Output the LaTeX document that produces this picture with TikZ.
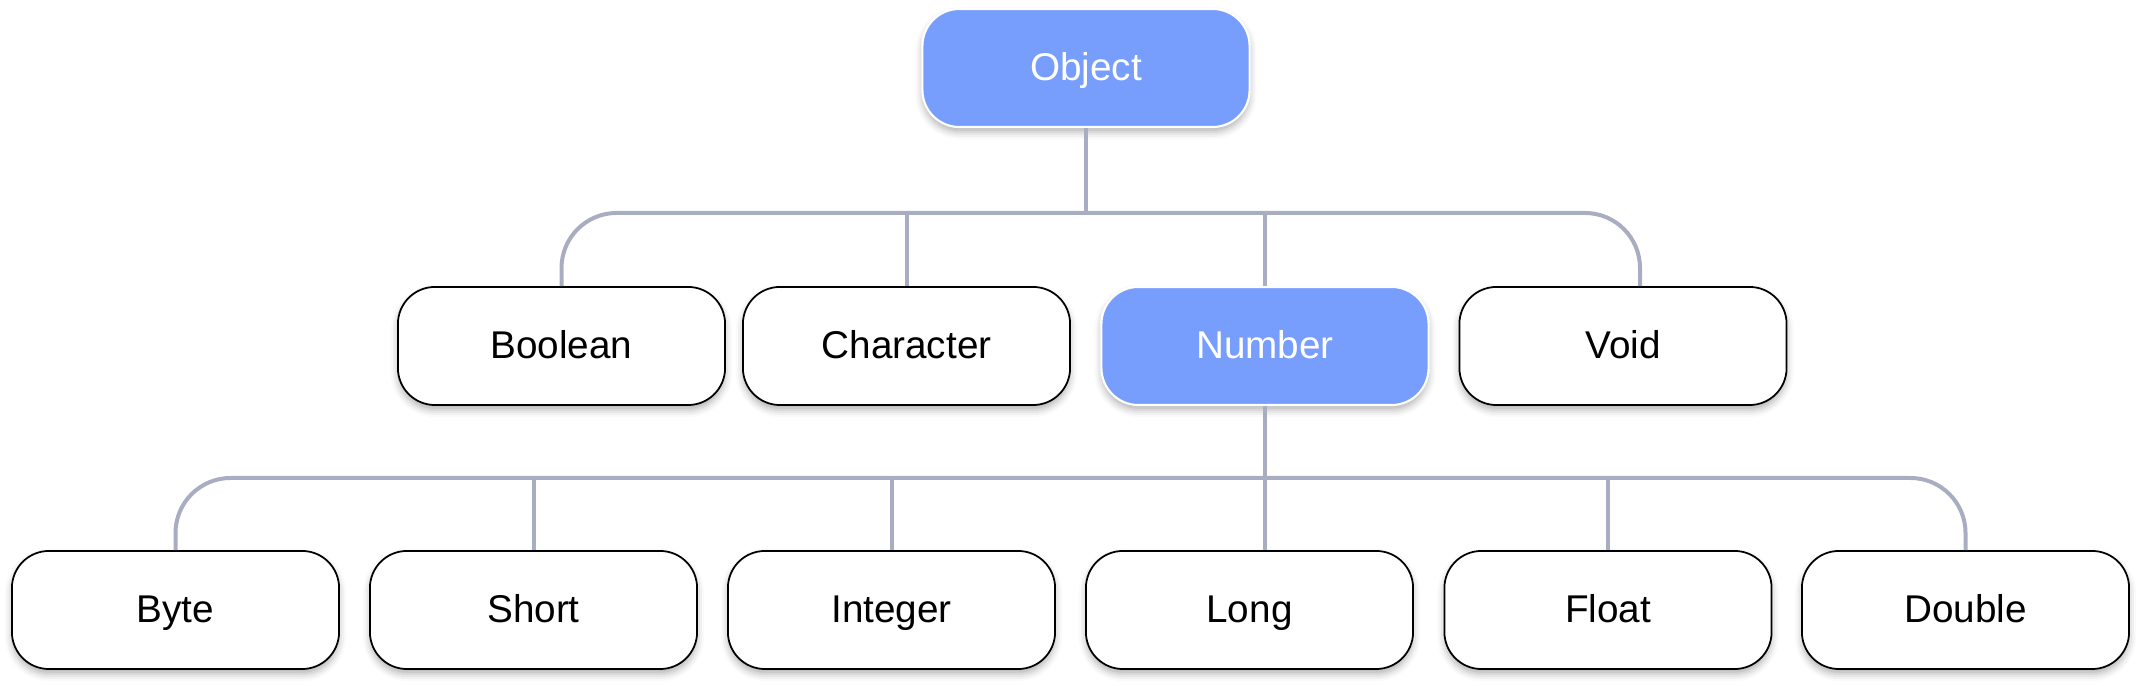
\documentclass[tikz,border=0pt]{standalone}
\usepackage{fontspec}
\setmainfont{Liberation Sans}
\usetikzlibrary{shadows.blur}
\definecolor{nodeblue}{RGB}{119,157,253}
\definecolor{connline}{RGB}{169,173,193}
\tikzset{
  basebox/.style={rounded corners=0.37cm, minimum width=3.27cm, minimum height=1.18cm, inner sep=0pt,
    font=\fontsize{11pt}{13pt}\selectfont, text height=0.72em, text depth=0pt,
    blur shadow={shadow xshift=0pt, shadow yshift=-0.05cm, shadow blur radius=0.07cm, shadow opacity=30}},
  whitebox/.style={basebox, draw=black, line width=0.5pt, fill=white, text=black},
  bluebox/.style={basebox, draw=white, line width=0.6pt, fill=nodeblue, text=white},
  conn/.style={draw=connline, line width=0.04cm, rounded corners=0.55cm},
}
\begin{document}
\begin{tikzpicture}[x=0.01cm, y=-0.01cm]
\useasboundingbox (0,0) rectangle (2142,686);
% top
\node[bluebox] (obj) at (1086,68) {Object};
% middle row
\node[whitebox] (bool) at (561.5,346) {Boolean};
\node[whitebox] (char) at (906.5,346) {Character};
\node[bluebox]  (num)  at (1265,346) {Number};
\node[whitebox] (void) at (1623,346) {Void};
% bottom row
\node[whitebox] (byte)  at (175.5,610) {Byte};
\node[whitebox] (short) at (533.5,610) {Short};
\node[whitebox] (int)   at (891.5,610) {Integer};
\node[whitebox] (long)  at (1249.5,610) {Long};
\node[whitebox] (float) at (1608,610) {Float};
\node[whitebox] (dbl)   at (1965.5,610) {Double};
% connector coordinates
\coordinate (bar1) at (1086,213);
\coordinate (voidtop) at ([xshift=0.17cm]void.north);
\coordinate (bar2) at (1265,478);
\coordinate (longtop) at (1265,0 |- long.north);
% top connectors
\draw[conn] (bool.north) |- (bar1) -| (voidtop);
\draw[conn] (obj.south) -- (bar1);
\draw[conn] (char.north) -- (char.north |- bar1);
\draw[conn] (num.north) -- (num.north |- bar1);
% bottom connectors
\draw[conn] (byte.north) |- (bar2) -| (dbl.north);
\draw[conn] (num.south) -- (longtop);
\draw[conn] (short.north) -- (short.north |- bar2);
\draw[conn] (int.north) -- (int.north |- bar2);
\draw[conn] (float.north) -- (float.north |- bar2);
\end{tikzpicture}
\end{document}
